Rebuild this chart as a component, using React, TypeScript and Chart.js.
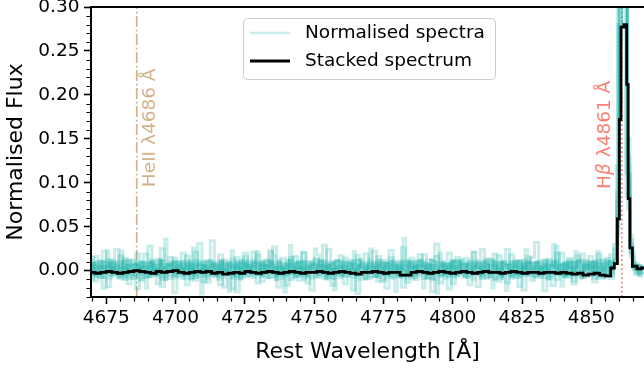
import React, { useEffect, useRef } from 'react';
import { Chart, registerables } from 'chart.js';

Chart.register(...registerables);

// ---------------- data ----------------
// Normalised spectra: 1 Å bins, left edge of the first bin at gridStart
const gridStart = 4669;
const gridStep = 1;

const spectrum1 = [
  .003, -.005, .008, .001, -.007, .010, .023, .004, -.002, .006,
  -.009, .002, .011, -.004, .005, .000, -.006, .009, .003, -.008,
  .007, -.003, .012, .002, -.005, .008, -.010, .004, .006, -.001,
  .010, -.006, .003, .009, -.004, .001, .007, -.008, .005, .011,
  -.002, .006, -.009, .004, .008, -.005, .002, .012, -.003, .007,
  -.024, .005, .009, -.007, .003, .010, -.004, .006, .001, -.008,
  .008, .002, -.006, .011, .004, -.003, .009, -.010, .005, .000,
  .007, -.005, .029, .003, -.007, .010, .002, -.004, .008, .005,
  -.009, .006, .001, .012, -.003, .004, -.008, .009, .002, -.005,
  .010, -.001, .006, -.007, .003, .011, -.004, .005, .008, -.010,
  .002, .007, -.006, .009, .000, -.003, .012, .004, -.008, .006,
  .003, -.005, .010, .001, -.009, .007, .005, -.002, .011, -.006,
  -.020, .004, .008, -.004, .006, .002, -.007, .010, .003, -.001,
  .009, -.008, .005, .012, -.003, .007, .001, -.006, .021, .004,
  -.005, .008, .002, -.009, .006, .011, -.002, .004, -.007, .009,
  .003, -.004, .010, .006, -.008, .001, .007, -.005, .012, .002,
  -.006, .009, .004, -.003, .008, -.010, .005, .011, -.001, .006,
  .002, -.007, .009, .004, -.005, .010, .001, -.008, .006, .003,
  .007, -.004, .011, -.002, .005, -.009, .008, .003, -.006, .012,
  .090, .330, .420, .380, .110, .025, .004, -.003, .006, .002,
];
const spectrum2 = [
  -.004, .007, .002, -.008, .010, .005, -.002, .009, -.006, .003,
  .011, .023, -.005, .006, .001, -.009, .008, .004, -.003, .010,
  .005, -.007, .009, .000, -.004, .012, .003, -.010, .007, .002,
  -.006, .010, .004, -.002, .008, -.005, .011, .001, -.008, .006,
  .009, -.003, .005, .012, -.007, .002, .007, -.004, .010, -.001,
  .004, -.009, .006, .003, .011, -.006, .008, .000, -.005, .009,
  .002, .010, -.007, .005, -.002, .008, .004, -.010, .012, .001,
  -.004, .007, .003, -.008, .009, .005, -.001, .011, -.006, .004,
  .008, .025, .018, -.003, .006, -.007, .010, .002, -.022, .005,
  -.002, .009, .004, -.006, .012, .001, -.004, .007, .003, -.009,
  .006, -.001, .010, .005, -.008, .003, .009, -.005, .011, .002,
  -.007, .008, .004, .000, -.003, .010, -.009, .006, .002, .012,
  .005, -.004, .007, .003, -.010, .009, .001, -.006, .008, .004,
  -.002, .011, -.005, .006, .002, -.008, .010, .003, -.004, .007,
  .009, -.006, .001, .012, -.003, .005, -.009, .008, .004, -.001,
  .006, .010, -.007, .003, -.005, .009, .002, .024, -.004, .008,
  -.008, .004, .011, -.002, .006, .001, -.006, .010, .003, -.005,
  -.018, .007, .002, .009, -.004, .005, .012, -.007, .003, .006,
  -.003, .010, .004, -.009, .008, .001, -.005, .011, .002, .015,
  .060, .280, .360, .330, .150, .035, .007, .001, -.004, .005,
];
const spectrum3 = [
  .008, .002, -.006, .011, -.003, .005, .009, -.009, .004, .000,
  -.005, .010, .003, -.007, .012, .006, -.002, .008, -.010, .004,
  .001, .009, -.004, .007, .003, -.008, .011, .036, .005, -.006,
  .010, -.002, .006, .002, -.009, .008, .004, -.005, .012, .001,
  -.007, .005, .009, -.003, .006, .000, -.010, .010, .003, -.004,
  .008, .004, -.006, .011, .002, -.008, .007, .005, -.003, .009,
  .003, -.005, .010, -.001, .006, .012, -.007, .004, .001, -.009,
  .009, .006, -.004, .008, .002, -.006, .011, .003, -.008, .005,
  .000, .007, -.003, .010, .004, -.010, .006, .009, -.002, .003,
  .011, -.007, .005, .001, .008, .022, -.005, .006, .010, -.003,
  .004, -.009, .007, .002, .012, -.004, .005, .008, -.006, .001,
  .009, .003, -.008, .006, .010, -.002, .004, -.007, .011, .005,
  -.004, .008, .001, .006, -.009, -.026, .003, .010, -.005, .007,
  .002, .012, -.006, .004, .009, -.003, .007, .000, -.010, .006,
  .011, -.004, .005, .008, -.007, .003, .010, .001, -.005, .009,
  -.002, .006, .004, -.008, .011, .007, -.003, .009, .002, -.006,
  .008, .001, -.005, .010, .003, -.009, .006, .030, .004, -.002,
  .007, .010, -.006, .002, .009, -.004, .005, .012, -.008, .003,
  .006, -.003, .009, .004, -.007, .011, .001, -.005, .008, .009,
  .120, .300, .390, .350, .070, .020, .003, .008, -.002, .004,
];
const spectrum4 = [
  -.006, .009, .004, -.002, .011, -.008, .005, .001, .010, -.004,
  .007, .003, -.009, .012, .002, -.005, .008, .006, -.001, .009,
  .004, -.007, .010, .001, -.003, .006, .011, -.010, .005, .008,
  -.002, .005, .009, -.006, .003, .010, -.004, .026, .007, -.008,
  -.027, .006, .002, .011, -.005, .008, .004, -.003, .009, .001,
  .010, -.006, .003, .007, -.009, .012, .005, -.002, .008, .004,
  -.005, .009, .001, .006, -.008, .010, .003, -.004, .011, .002,
  .007, -.003, .012, .005, -.007, .002, .009, .000, -.006, .010,
  .004, .008, -.005, .003, .011, -.009, .006, .001, .009, -.002,
  -.008, .005, .010, -.003, .007, .002, -.006, .012, .004, -.001,
  .009, .025, .003, -.007, .006, .010, -.004, .002, .008, -.009,
  .005, .001, -.006, .011, .004, -.002, .009, -.008, .006, .012,
  -.003, .007, .002, -.010, .010, .005, -.005, .008, .001, -.007,
  .011, .004, -.004, .009, .000, -.006, .007, .012, -.002, .005,
  .003, -.008, .010, .006, -.003, -.020, .008, .002, -.009, .011,
  .006, .002, -.005, .009, .004, -.007, .012, .001, -.004, .008,
  .010, -.006, .003, .007, -.002, .011, -.009, .005, .009, .000,
  -.004, .008, .005, -.008, .010, .022, .003, -.005, .007, .012,
  .002, -.006, .009, .004, -.003, .008, .011, -.007, .005, .010,
  .040, .350, .450, .300, .100, .030, .006, -.002, .005, -.003,
];
const spectrum5 = [
  .005, -.003, .010, .006, -.008, .002, .009, -.005, .012, .001,
  -.007, .008, .004, -.002, .011, .003, -.009, .006, .010, -.004,
  -.020, .005, .009, -.006, .002, .012, -.003, .007, .000, .010,
  .004, -.008, .006, .011, -.001, .005, -.010, .009, .003, .007,
  -.005, .010, .002, -.004, .008, .006, -.007, .011, .001, -.002,
  .009, .023, .004, -.009, .007, .003, .010, -.006, .005, .012,
  .000, -.004, .008, .002, -.008, .011, .006, -.003, .009, .004,
  -.006, .012, .001, .007, -.005, .009, .003, -.010, .006, .010,
  .002, -.007, .011, .004, -.002, .008, .005, -.009, .010, .003,
  .007, -.004, .001, .009, .006, -.008, .012, .002, -.005, .008,
  -.003, .010, .005, -.006, .009, .001, -.010, .007, .004, .011,
  .006, -.002, .008, .037, .012, -.007, .003, .010, -.004, .005,
  .009, .002, -.009, .006, .011, -.005, .004, .008, -.001, .007,
  -.006, .010, .003, -.003, .012, .005, -.008, .001, .009, .004,
  .008, -.005, .011, .002, -.007, .009, .006, -.002, .010, -.009,
  -.023, .007, .001, .008, -.004, .011, .003, -.006, .009, .005,
  .002, .009, -.007, .005, .012, -.003, .006, .010, .028, -.005,
  .006, -.008, .010, .003, -.002, .008, .004, -.009, .011, .001,
  .009, .005, -.004, .012, .002, -.006, .007, .010, -.003, .014,
  .080, .310, .400, .420, .130, .040, .010, .002, -.005, .003,
];
const spectrum6 = [
  .001, .008, -.007, .004, .010, -.003, .006, .012, -.005, .009,
  .003, -.006, .011, .002, -.009, .007, .005, -.002, .010, .004,
  -.008, .009, .001, .006, -.004, .011, .003, -.007, .008, .005,
  .010, -.002, .007, -.009, .004, .012, .000, .006, -.005, .009,
  .002, .011, -.006, .005, .008, -.003, .010, .001, -.008, .007,
  .006, -.004, .009, .003, -.010, .008, .004, .011, -.002, .005,
  .022, .007, -.005, .010, .002, .021, .017, -.006, .009, .003,
  -.025, .005, .012, -.003, .008, .001, -.007, .010, .004, -.001,
  .009, .003, -.008, .006, .011, -.004, .007, .002, -.009, .012,
  .004, -.006, .010, .001, -.003, .008, .005, -.010, .011, .006,
  -.002, .009, .003, -.007, .012, .004, -.005, .008, .000, .010,
  -.024, .006, .002, .009, -.006, .011, .003, -.004, .007, .005,
  .010, -.008, .004, .012, .001, -.003, .020, .006, -.009, .008,
  .003, .007, -.005, .010, .002, -.007, .009, .004, -.002, .011,
  -.004, .005, .009, -.008, .006, .012, -.001, .003, .010, -.006,
  .007, .001, -.009, .011, .004, -.005, .008, .002, .010, -.003,
  .005, .010, -.004, .003, -.008, .009, .006, -.002, .012, .001,
  .008, -.007, .004, .010, .003, -.006, .011, .005, -.004, .009,
  .002, .010, -.005, .022, .007, -.008, .004, .011, .001, .010,
  .050, .260, .370, .360, .120, .025, .001, .006, .003, -.002,
];

// Two noisier spectra on a coarser 1.5 Å grid
const noisyStep = 1.5;
const noisySpectrum1 = [
  .015, -.012, .004, .022, -.018, .009, -.003, .017, -.010, .006,
  .012, -.021, .003, .019, -.007, .011, -.015, .025, .001, -.009,
  .014, -.004, .020, -.016, .008, -.011, .031, .002, -.013, .010,
  -.006, .018, -.019, .005, .013, -.024, .009, .016, -.002, .021,
  -.014, .007, .012, -.008, .027, -.005, .003, -.017, .015, .010,
  -.011, .020, .001, -.022, .014, .006, -.009, .024, -.004, .011,
  .017, -.015, .008, .002, -.026, .013, .019, -.007, .004, .016,
  -.012, .009, .023, -.003, .011, -.019, .006, .014, -.010, .002,
  .018, -.008, .012, .030, -.014, .005, -.021, .010, .015, -.005,
  .007, -.016, .021, .003, -.009, .013, -.002, .019, -.012, .008,
  .024, -.006, .011, -.018, .004, .016, -.011, .009, .002, -.023,
  .013, .006, -.010, .020, -.004, .012, -.015, .017, .008, -.007,
  .010, -.013, .019, .003, .014, -.009, .030, .320, .410, .085,
  .015, -.004, .006,
];
const noisySpectrum2 = [
  -.010, .016, .005, -.020, .012, .003, .024, -.008, .014, -.015,
  .006, .019, -.011, .009, .028, -.004, .013, -.018, .007, .015,
  -.025, .010, .002, .017, -.009, .021, .006, -.013, .011, .034,
  .004, -.016, .012, .008, -.021, .015, .001, .020, -.007, .010,
  .018, -.012, .006, .023, -.003, -.019, .014, .009, -.010, .016,
  .003, .021, -.014, .007, .012, -.006, .029, .002, -.017, .011,
  -.005, .014, .010, -.022, .017, .004, -.009, .013, .022, -.012,
  .008, -.020, .015, .005, -.007, .026, -.013, .010, .003, .018,
  -.009, .012, -.024, .016, .006, -.004, .020, -.015, .011, .007,
  .014, -.003, .009, -.018, .024, .001, .013, -.010, .017, -.006,
  -.014, .018, .005, .011, -.022, .009, .015, .032, -.008, .012,
  .003, -.017, .020, .007, -.005, .014, -.012, .010, .019, -.003,
  .016, -.009, .008, .012, -.006, .018, .025, .280, .390, .110,
  .020, .002, -.006,
];

// Stacked spectrum: 2 Å bins from gridStart up to the line, then the resolved Hβ profile
const stackedStep = 2;
const stackedContinuum = [
  -.002, -.003, -.002, -.001, -.002, -.003, -.002, -.001, .000, -.001,
  -.002, -.003, -.001, -.002, -.001, .000, -.002, -.003, -.002, -.001,
  -.002, -.001, -.003, -.002, -.004, -.003, -.002, -.003, -.001, -.002,
  -.003, -.002, -.001, -.002, -.003, -.002, -.001, -.002, -.003, -.002,
  -.002, -.001, -.002, -.003, -.002, -.001, -.002, -.003, -.004, -.002,
  -.002, -.001, -.002, -.003, -.002, -.002, -.005, -.005, -.002, -.001,
  -.002, -.003, -.002, -.001, -.002, -.003, -.002, -.001, -.002, -.003,
  -.002, -.001, -.002, -.002, -.003, -.002, -.001, -.002, -.003, -.002,
  -.002, -.003, -.002, -.002, -.003, -.002, -.003, -.004, -.003, -.005,
  -.004, -.003, -.005, -.006,
];
const stackedPeakWave = [4857, 4858.3, 4859.4, 4860.1, 4860.7, 4861.7, 4862.75, 4863.3, 4863.9, 4864.8, 4866.5, 4868];
const stackedPeakFlux = [.003, .008, .059, .172, .277, .280, .212, .082, .026, .005, .002, .003];
const stackedEndWave = 4870;

// Axes
const xMin = 4669.5;
const xMax = 4869;
const yMin = -0.03;
const yMax = 0.30;
const xTickValues = [4675, 4700, 4725, 4750, 4775, 4800, 4825, 4850];
const xTickLabels = ['4675', '4700', '4725', '4750', '4775', '4800', '4825', '4850'];
const yTickValues = [0, 0.05, 0.1, 0.15, 0.2, 0.25, 0.3];
const yTickLabels = ['0.00', '0.05', '0.10', '0.15', '0.20', '0.25', '0.30'];
const xMinorStep = 5;
const yMinorStep = 0.01;

// Line markers
const heiiWave = 4686;
const heiiLabelFlux = 0.095;
const hbetaWave = 4861;
const hbetaLabelFlux = 0.093;

// ---------------- styles ----------------
const FONT = '"DejaVu Sans"';
const TEAL = 'rgba(32,178,170,0.25)';
const TAN = 'rgb(210,180,140)';
const SALMON = 'rgb(250,128,114)';

const normalisedSpectra = [spectrum1, spectrum2, spectrum3, spectrum4, spectrum5, spectrum6];
const noisySpectra = [noisySpectrum1, noisySpectrum2];

function toSteps(flux: number[], step: number) {
  const pts = flux.map((f, i) => ({ x: gridStart + step * i, y: f }));
  pts.push({ x: gridStart + step * flux.length, y: flux[flux.length - 1] });
  return pts;
}

function stackedSteps() {
  const pts = stackedContinuum.map((f, i) => ({ x: gridStart + stackedStep * i, y: f }));
  stackedPeakWave.forEach((w, i) => pts.push({ x: w, y: stackedPeakFlux[i] }));
  pts.push({ x: stackedEndWave, y: stackedPeakFlux[stackedPeakFlux.length - 1] });
  return pts;
}

const decorPlugin = {
  id: 'decor',
  beforeDatasetsDraw(chart: any) {
    const { ctx, chartArea: ca, scales } = chart;
    const x = scales.x;
    const y = scales.y;
    ctx.save();
    const hx = x.getPixelForValue(heiiWave);
    ctx.strokeStyle = TAN;
    ctx.lineWidth = 1.7;
    ctx.setLineDash([10.9, 2.7, 1.7, 2.7]);
    ctx.beginPath();
    ctx.moveTo(hx, ca.bottom);
    ctx.lineTo(hx, ca.top);
    ctx.stroke();
    const bx = x.getPixelForValue(hbetaWave);
    ctx.strokeStyle = SALMON;
    ctx.setLineDash([1.7, 2.8]);
    ctx.beginPath();
    ctx.moveTo(bx, ca.bottom);
    ctx.lineTo(bx, ca.top);
    ctx.stroke();
    ctx.setLineDash([]);

    ctx.textAlign = 'left';
    ctx.textBaseline = 'alphabetic';
    ctx.font = `18.5px ${FONT}`;
    ctx.fillStyle = TAN;
    ctx.save();
    ctx.translate(hx + 18, y.getPixelForValue(heiiLabelFlux));
    ctx.rotate(-Math.PI / 2);
    ctx.fillText('HeII λ4686 Å', 0, 0);
    ctx.restore();

    ctx.fillStyle = SALMON;
    ctx.save();
    ctx.translate(bx - 12, y.getPixelForValue(hbetaLabelFlux));
    ctx.rotate(-Math.PI / 2);
    let off = 0;
    ctx.font = `18.5px ${FONT}`;
    ctx.fillText('H', off, 0);
    off += ctx.measureText('H').width;
    ctx.font = `italic 18.5px ${FONT}`;
    ctx.fillText('β', off, 0);
    off += ctx.measureText('β').width;
    ctx.font = `18.5px ${FONT}`;
    ctx.fillText(' λ4861 Å', off, 0);
    ctx.restore();
    ctx.restore();
  },
  afterDraw(chart: any) {
    const { ctx, chartArea: ca, scales } = chart;
    const x = scales.x;
    const y = scales.y;
    ctx.save();
    ctx.strokeStyle = '#000';
    ctx.lineWidth = 1.2;
    ctx.beginPath();
    for (let v = Math.ceil(xMin / xMinorStep) * xMinorStep; v <= xMax; v += xMinorStep) {
      if (xTickValues.includes(v)) continue;
      const px = Math.round(x.getPixelForValue(v)) + 0.5;
      ctx.moveTo(px, ca.bottom);
      ctx.lineTo(px, ca.bottom + 4.5);
    }
    const nMinor = Math.round((yMax - yMin) / yMinorStep);
    for (let k = 0; k <= nMinor; k++) {
      const v = yMin + k * yMinorStep;
      if (yTickValues.some((t) => Math.abs(t - v) < 1e-6)) continue;
      const py = Math.round(y.getPixelForValue(v)) + 0.5;
      ctx.moveTo(ca.left, py);
      ctx.lineTo(ca.left - 4.5, py);
    }
    ctx.stroke();

    ctx.lineWidth = 2;
    ctx.beginPath();
    ctx.moveTo(ca.left, ca.bottom);
    ctx.lineTo(ca.left, ca.top);
    ctx.moveTo(ca.left - 1, ca.top);
    ctx.lineTo(ca.right, ca.top);
    ctx.moveTo(ca.left - 1, ca.bottom);
    ctx.lineTo(ca.right, ca.bottom);
    ctx.stroke();

    const ds = chart.data.datasets;
    const entries = [ds[1], ds[0]];
    const lx = 243.5, ly = 18.5, lw = 252, lh = 61;
    ctx.fillStyle = 'rgba(255,255,255,0.8)';
    ctx.strokeStyle = '#cccccc';
    ctx.lineWidth = 1;
    ctx.beginPath();
    ctx.roundRect(lx, ly, lw, lh, 4);
    ctx.fill();
    ctx.stroke();
    const rowY = [33, 61];
    entries.forEach((d: any, i: number) => {
      ctx.strokeStyle = d.borderColor;
      ctx.lineWidth = d.borderWidth;
      ctx.beginPath();
      ctx.moveTo(250, rowY[i]);
      ctx.lineTo(290, rowY[i]);
      ctx.stroke();
      ctx.fillStyle = '#000';
      ctx.font = `18.5px ${FONT}`;
      ctx.textAlign = 'left';
      ctx.textBaseline = 'middle';
      ctx.fillText(d.label, 305, rowY[i]);
    });
    ctx.restore();
  },
};

function tealDataset(flux: number[], step: number, width: number) {
  return {
    label: 'Normalised spectra',
    data: toSteps(flux, step),
    borderColor: TEAL,
    borderWidth: width,
    stepped: 'before',
    pointRadius: 0,
    fill: false,
    clip: 0,
    order: 1,
  };
}

export default function App() {
  const ref = useRef<HTMLCanvasElement | null>(null);
  useEffect(() => {
    if (!ref.current) return;
    Chart.defaults.font.family = FONT;
    const datasets: any[] = [
      {
        label: 'Stacked spectrum',
        data: stackedSteps(),
        borderColor: '#000',
        borderWidth: 2.8,
        stepped: 'before',
        pointRadius: 0,
        fill: false,
        clip: 0,
        order: 0,
      },
      ...normalisedSpectra.map((flux) => tealDataset(flux, gridStep, 2.5)),
      ...noisySpectra.map((flux) => tealDataset(flux, noisyStep, 3)),
    ];
    const chart = new Chart(ref.current, {
      type: 'line',
      data: { datasets },
      options: {
        animation: false,
        responsive: false,
        devicePixelRatio: 1,
        layout: { padding: { top: 7, left: 0, right: 0, bottom: 0 } },
        plugins: { legend: { display: false }, tooltip: { enabled: false } },
        scales: {
          x: {
            type: 'linear',
            min: xMin,
            max: xMax,
            afterBuildTicks: (s: any) => {
              s.ticks = xTickValues.map((v) => ({ value: v }));
            },
            afterFit: (s: any) => {
              s.height = 73;
              s.paddingLeft = 0;
              s.paddingRight = 0;
            },
            ticks: {
              autoSkip: false,
              maxRotation: 0,
              color: '#000',
              padding: 3,
              font: { size: 18.5 },
              callback: (_v: any, i: number) => xTickLabels[i],
            },
            grid: { drawOnChartArea: false, drawTicks: true, tickLength: 7, tickWidth: 1.6, tickColor: '#000' },
            border: { display: true, color: '#000', width: 2 },
            title: { display: true, text: 'Rest Wavelength [Å]', color: '#000', font: { size: 22 }, padding: { top: 0, bottom: 4.4 } },
          },
          y: {
            type: 'linear',
            min: yMin,
            max: yMax,
            afterBuildTicks: (s: any) => {
              s.ticks = yTickValues.map((v) => ({ value: v }));
            },
            afterFit: (s: any) => {
              s.width = 91;
              s.paddingTop = 0;
              s.paddingBottom = 0;
            },
            ticks: {
              autoSkip: false,
              color: '#000',
              padding: 4.5,
              font: { size: 18.5 },
              callback: (_v: any, i: number) => yTickLabels[i],
            },
            grid: { drawOnChartArea: false, drawTicks: true, tickLength: 7, tickWidth: 1.6, tickColor: '#000' },
            border: { display: true, color: '#000', width: 2 },
            title: { display: true, text: 'Normalised Flux', color: '#000', font: { size: 22 }, padding: { top: 3.2, bottom: 0 } },
          },
        },
      },
      plugins: [decorPlugin],
    } as any);
    return () => chart.destroy();
  }, []);
  return (
    <div style={{ position: 'fixed', left: 0, top: 0, width: 644, height: 370, background: '#fff' }}>
      <canvas ref={ref} width={644} height={370} style={{ width: 644, height: 370, display: 'block' }} />
    </div>
  );
}
